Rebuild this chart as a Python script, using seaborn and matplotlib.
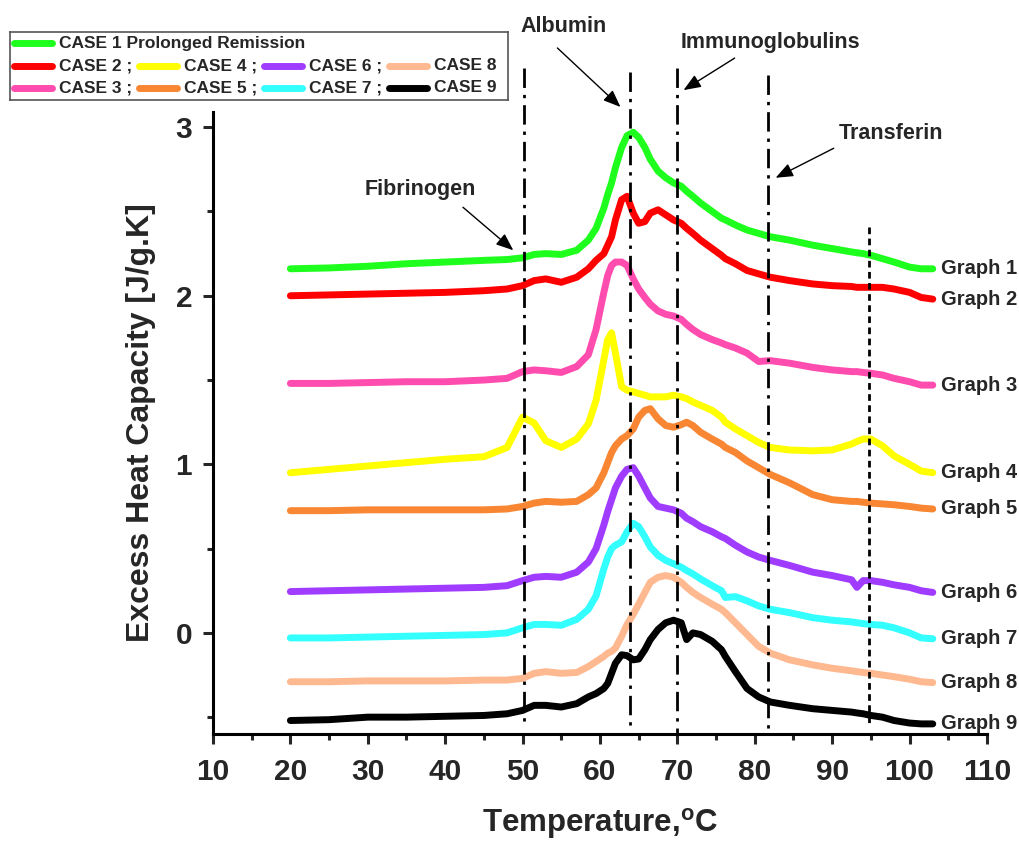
import pandas as pd
import matplotlib
matplotlib.use('Agg')
import matplotlib.pyplot as plt
import seaborn as sns


# ===[ Data: ]=================================================================
temp = [20, 25, 30, 35, 40, 45, 48, 50, 51.5, 53, 55, 57, 58.5, 59.5, 60.5,
        61, 61.5, 62, 62.8, 63.5, 64.3, 65, 65.8, 66.5, 67.5, 68.5, 69.5,
        70.5, 71.2, 72, 73, 74.5, 75.7, 76.2, 77.5, 79, 80.5, 82, 84.5, 87.5,
        90, 92.5, 93.2, 94, 95, 96.5, 98, 100, 101.5, 103]

graph1 = [2.16, 2.165, 2.175, 2.19, 2.20, 2.21, 2.215, 2.225, 2.245, 2.25,
          2.245, 2.27, 2.33, 2.40, 2.52, 2.60, 2.67, 2.76, 2.88, 2.95, 2.97,
          2.94, 2.88, 2.81, 2.74, 2.70, 2.67, 2.65, 2.62, 2.59, 2.55, 2.50,
          2.46, 2.45, 2.42, 2.39, 2.37, 2.35, 2.33, 2.30, 2.28, 2.26, 2.255,
          2.25, 2.24, 2.22, 2.20, 2.17, 2.16, 2.16]
graph2 = [2.00, 2.005, 2.01, 2.015, 2.02, 2.03, 2.04, 2.06, 2.09, 2.10,
          2.08, 2.11, 2.16, 2.21, 2.25, 2.30, 2.35, 2.45, 2.57, 2.59, 2.49,
          2.43, 2.44, 2.49, 2.51, 2.48, 2.45, 2.43, 2.40, 2.37, 2.33, 2.28,
          2.24, 2.22, 2.19, 2.15, 2.13, 2.11, 2.09, 2.07, 2.06, 2.055, 2.05,
          2.05, 2.05, 2.05, 2.04, 2.02, 1.99, 1.98]
graph3 = [1.48, 1.48, 1.485, 1.49, 1.49, 1.50, 1.51, 1.55, 1.56, 1.555,
          1.545, 1.58, 1.65, 1.80, 2.02, 2.12, 2.18, 2.20, 2.20, 2.18, 2.10,
          2.04, 1.99, 1.95, 1.91, 1.89, 1.88, 1.86, 1.83, 1.80, 1.77, 1.74,
          1.72, 1.71, 1.69, 1.66, 1.61, 1.615, 1.60, 1.575, 1.56, 1.55, 1.55,
          1.545, 1.54, 1.53, 1.51, 1.49, 1.47, 1.47]
graph4 = [0.95, 0.97, 0.99, 1.01, 1.03, 1.045, 1.10, 1.28, 1.245, 1.14,
          1.10, 1.15, 1.24, 1.38, 1.62, 1.74, 1.78, 1.66, 1.46, 1.44, 1.43,
          1.42, 1.41, 1.40, 1.40, 1.40, 1.41, 1.40, 1.39, 1.37, 1.35, 1.32,
          1.28, 1.25, 1.21, 1.17, 1.13, 1.10, 1.085, 1.08, 1.085, 1.12, 1.135,
          1.15, 1.15, 1.11, 1.05, 1.00, 0.96, 0.95]
graph5 = [0.725, 0.725, 0.73, 0.73, 0.73, 0.73, 0.735, 0.75, 0.77, 0.78,
          0.775, 0.78, 0.82, 0.86, 0.95, 1.01, 1.07, 1.11, 1.15, 1.17, 1.21,
          1.28, 1.32, 1.33, 1.27, 1.23, 1.22, 1.235, 1.25, 1.23, 1.19, 1.15,
          1.12, 1.10, 1.07, 1.02, 0.98, 0.94, 0.89, 0.82, 0.79, 0.78, 0.78,
          0.775, 0.77, 0.765, 0.76, 0.75, 0.74, 0.735]
graph6 = [0.245, 0.25, 0.255, 0.26, 0.265, 0.27, 0.28, 0.31, 0.33, 0.335,
          0.33, 0.36, 0.42, 0.50, 0.64, 0.72, 0.79, 0.86, 0.93, 0.97, 0.98,
          0.93, 0.86, 0.80, 0.75, 0.74, 0.73, 0.71, 0.68, 0.66, 0.63, 0.60,
          0.57, 0.56, 0.52, 0.48, 0.45, 0.43, 0.40, 0.36, 0.34, 0.315, 0.27,
          0.31, 0.31, 0.30, 0.285, 0.27, 0.25, 0.24]
graph7 = [-0.03, -0.03, -0.025, -0.02, -0.015, -0.01, 0.0, 0.03, 0.05, 0.05,
          0.045, 0.08, 0.14, 0.22, 0.38, 0.45, 0.50, 0.52, 0.54, 0.60, 0.65,
          0.63, 0.57, 0.51, 0.46, 0.43, 0.41, 0.39, 0.37, 0.35, 0.32, 0.28,
          0.25, 0.21, 0.215, 0.19, 0.16, 0.14, 0.12, 0.09, 0.075, 0.065, 0.06,
          0.055, 0.05, 0.045, 0.03, 0.0, -0.03, -0.035]
graph8 = [-0.29, -0.29, -0.285, -0.285, -0.285, -0.28, -0.28, -0.27, -0.24,
          -0.23, -0.24, -0.235, -0.20, -0.17, -0.14, -0.12, -0.11, -0.09,
          -0.02, 0.05, 0.11, 0.17, 0.24, 0.30, 0.33, 0.34, 0.33, 0.30, 0.27,
          0.24, 0.21, 0.17, 0.14, 0.12, 0.06, -0.01, -0.08, -0.12, -0.16,
          -0.19, -0.21, -0.225, -0.23, -0.235, -0.24, -0.25, -0.26, -0.275,
          -0.29, -0.295]
graph9 = [-0.52, -0.515, -0.50, -0.50, -0.495, -0.49, -0.48, -0.46, -0.43,
          -0.43, -0.44, -0.42, -0.38, -0.36, -0.33, -0.30, -0.24, -0.18,
          -0.13, -0.135, -0.16, -0.155, -0.10, -0.04, 0.02, 0.06, 0.075, 0.06,
          -0.04, 0.00, -0.01, -0.05, -0.10, -0.14, -0.23, -0.33, -0.38, -0.41,
          -0.43, -0.45, -0.46, -0.47, -0.475, -0.48, -0.49, -0.50, -0.52,
          -0.535, -0.54, -0.54]

graphs = [graph1, graph2, graph3, graph4, graph5, graph6, graph7, graph8,
          graph9]
graph_names = ['Graph %d' % i for i in range(1, 10)]
case_labels = ['CASE 1 Prolonged Remission', 'CASE 2 ;', 'CASE 3 ;',
               'CASE 4 ;', 'CASE 5 ;', 'CASE 6 ;', 'CASE 7 ;', 'CASE 8',
               'CASE 9']
colors = ['#1eff1e', '#ff0000', '#ff4daf', '#ffff00', '#f88632', '#9f3cff',
          '#33ffff', '#ffb990', '#000000']

# protein transition temperatures marked by vertical lines
marker_temps = [50.2, 63.9, 70.0, 81.7, 94.7]
proteins = ['Fibrinogen', 'Albumin', 'Immunoglobulins', 'Transferin']


# ===[ Main: ]=================================================================
def main():
    sns.set_style('ticks')
    plt.rcParams['font.family'] = ['Liberation Sans', 'DejaVu Sans']
    plt.rcParams['font.weight'] = 'bold'
    plt.rcParams['axes.labelweight'] = 'bold'
    plt.rcParams['mathtext.fontset'] = 'custom'
    plt.rcParams['mathtext.rm'] = 'Liberation Sans:bold'
    plt.rcParams['mathtext.bf'] = 'Liberation Sans:bold'

    fig = plt.figure(figsize=(10.2, 8.43), dpi=100)
    ax = fig.add_axes([0.2088, 0.1293, 0.7588, 0.7378])

    # long-form table for seaborn
    df = pd.concat([pd.DataFrame({'temp': temp, 'cp': g, 'graph': n})
                    for g, n in zip(graphs, graph_names)], ignore_index=True)
    sns.lineplot(data=df, x='temp', y='cp', hue='graph',
                 hue_order=graph_names, palette=colors, lw=5, legend=False,
                 solid_capstyle='round', solid_joinstyle='round', ax=ax)

    # curve names at the right end
    for g, n in zip(graphs, graph_names):
        ax.text(104.0, g[-1], n, ha='left', va='center', fontsize=14.5,
                fontweight='bold', clip_on=False)

    # vertical marker lines
    tops = [3.35, 3.33, 3.35, 3.31, 2.41]
    bots = [-0.55, -0.56, -0.6, -0.59, -0.54]
    dash = [(7, 2.5, 1.2, 2.5)] * 4 + [(2.4, 1.6)]
    for x, t, b, d in zip(marker_temps, tops, bots, dash):
        ax.plot([x, x], [t, b], color='k', lw=2, dashes=d, clip_on=False)

    # protein labels with arrows
    txt_pos = [(36.8, 2.63), (55.3, 3.60), (82.0, 3.50), (97.6, 2.96)]
    tails = [(42.3, 2.525), (54.5, 3.47), (77.4, 3.41), (90.2, 2.875)]
    heads = [(48.8, 2.27), (62.65, 3.12), (70.8, 3.22), (82.7, 2.70)]
    for name, p, t, h in zip(proteins, txt_pos, tails, heads):
        ax.text(p[0], p[1], name, ha='center', va='center', fontsize=15.5,
                fontweight='bold', clip_on=False)
        ax.annotate('', xy=h, xytext=t, annotation_clip=False,
                    arrowprops=dict(arrowstyle='-|>,head_length=0.7,'
                                    'head_width=0.28', color='k', lw=1,
                                    mutation_scale=15, shrinkA=0, shrinkB=0))

    ax.set_xlim(10, 110)
    ax.set_ylim(-0.6, 3.09)
    ax.set_xticks(range(10, 111, 10))
    ax.set_xticks(range(15, 110, 10), minor=True)
    ax.set_yticks([0, 1, 2, 3])
    ax.set_yticks([-0.5, 0.5, 1.5, 2.5], minor=True)
    ax.tick_params(which='major', length=7, width=2.2, labelsize=21.5,
                   direction='out')
    ax.tick_params(which='minor', length=4, width=2.2, direction='out')
    ax.tick_params(axis='x', pad=10)
    ax.tick_params(axis='y', pad=8)
    for lab in ax.get_xticklabels() + ax.get_yticklabels():
        lab.set_fontweight('bold')
    sns.despine(ax=ax)
    for sp in ('left', 'bottom'):
        ax.spines[sp].set_linewidth(2.2)
        ax.spines[sp].set_color('k')

    ax.set_xlabel(r'Temperature,$^{\mathregular{o}}$C', fontsize=22.5,
                  fontweight='bold', labelpad=15)
    ax.set_ylabel('Excess Heat Capacity [J/g.K]', fontsize=23,
                  fontweight='bold', labelpad=14)

    # legend box drawn by hand (first row alone, then two rows of four)
    leg = fig.add_axes([10 / 1020, 1 - 100 / 843, 498 / 1020, 68 / 843])
    leg.set_xlim(0, 498)
    leg.set_ylim(68, 0)
    leg.set_xticks([])
    leg.set_yticks([])
    for sp in leg.spines.values():
        sp.set_color('#555555')
        sp.set_linewidth(1.2)
    slots = [(0, 0), (1, 0), (2, 0), (1, 1), (2, 1), (1, 2), (2, 2), (1, 3),
             (2, 3)]
    rows_y = [11, 34, 56]
    for (r, c), lab, col in zip(slots, case_labels, colors):
        x0 = 4 + c * 125
        leg.plot([x0, x0 + 38], [rows_y[r], rows_y[r]], color=col, lw=5,
                 solid_capstyle='round')
        leg.text(x0 + 45, rows_y[r], lab, ha='left', va='center',
                 fontsize=12.5, fontweight='bold')

    fig.savefig('out.png', dpi=100)


if __name__ == '__main__':
    main()
